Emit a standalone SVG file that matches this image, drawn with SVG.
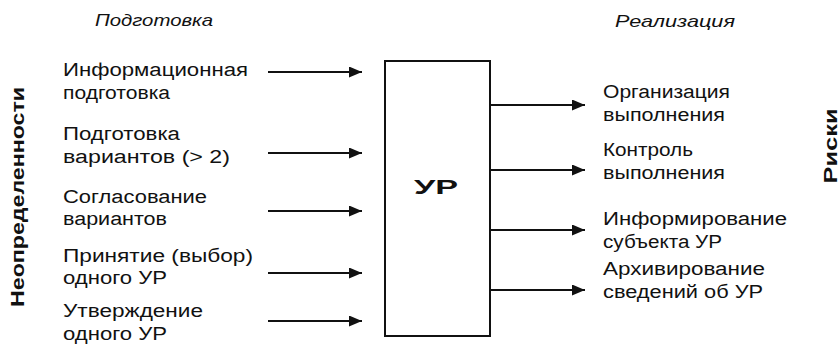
<svg xmlns="http://www.w3.org/2000/svg" width="840" height="353" viewBox="0 0 840 353">
<style>
text{font-family:"Liberation Sans","DejaVu Sans",Arial,sans-serif;fill:#111}
.t{font-size:18px}
.h{font-size:17px;font-style:italic}
.b{font-size:19px;font-weight:bold}
.u{font-size:21px;font-weight:bold}
.c{stroke:#111;stroke-width:2;fill:none}
</style>
<defs>
<marker id="ah" markerUnits="userSpaceOnUse" markerWidth="14" markerHeight="11" refX="13" refY="5.5" orient="auto">
<path d="M0,0 L13,5.5 L0,11 Z" fill="#111"/>
</marker>
</defs>
<rect width="840" height="353" fill="#fff"/>
<g id="title-prep"><text class="h" x="95" y="26" textLength="118" lengthAdjust="spacingAndGlyphs">Подготовка</text></g>
<g id="title-real"><text class="h" x="615" y="27" textLength="120" lengthAdjust="spacingAndGlyphs">Реализация</text></g>
<g id="side-left"><text class="b" transform="translate(24,197) rotate(-90)" text-anchor="middle" textLength="220" lengthAdjust="spacingAndGlyphs">Неопределенности</text></g>
<g id="side-right"><text class="b" transform="translate(837,146) rotate(-90)" text-anchor="middle" textLength="75" lengthAdjust="spacingAndGlyphs">Риски</text></g>
<g id="box-ur">
<rect x="385" y="61" width="105" height="275" fill="#fff" stroke="#111" stroke-width="2"/>
<text class="u" x="414" y="194" textLength="44" lengthAdjust="spacingAndGlyphs">УР</text>
</g>
<g id="in1"><text class="t" x="63" y="76" textLength="185" lengthAdjust="spacingAndGlyphs">Информационная</text><text class="t" x="63" y="99" textLength="107" lengthAdjust="spacingAndGlyphs">подготовка</text></g>
<g id="in2"><text class="t" x="63" y="140" textLength="117" lengthAdjust="spacingAndGlyphs">Подготовка</text><text class="t" x="63" y="163" textLength="167" lengthAdjust="spacingAndGlyphs">вариантов (&gt; 2)</text></g>
<g id="in3"><text class="t" x="63" y="203" textLength="144" lengthAdjust="spacingAndGlyphs">Согласование</text><text class="t" x="63" y="225" textLength="104" lengthAdjust="spacingAndGlyphs">вариантов</text></g>
<g id="in4"><text class="t" x="63" y="262" textLength="190" lengthAdjust="spacingAndGlyphs">Принятие (выбор)</text><text class="t" x="63" y="284" textLength="104" lengthAdjust="spacingAndGlyphs">одного УР</text></g>
<g id="in5"><text class="t" x="63" y="317" textLength="140" lengthAdjust="spacingAndGlyphs">Утверждение</text><text class="t" x="63" y="340" textLength="104" lengthAdjust="spacingAndGlyphs">одного УР</text></g>
<g id="out1"><text class="t" x="603" y="98" textLength="127" lengthAdjust="spacingAndGlyphs">Организация</text><text class="t" x="603" y="121" textLength="122" lengthAdjust="spacingAndGlyphs">выполнения</text></g>
<g id="out2"><text class="t" x="603" y="156" textLength="90" lengthAdjust="spacingAndGlyphs">Контроль</text><text class="t" x="603" y="179" textLength="122" lengthAdjust="spacingAndGlyphs">выполнения</text></g>
<g id="out3"><text class="t" x="603" y="225" textLength="184" lengthAdjust="spacingAndGlyphs">Информирование</text><text class="t" x="603" y="248" textLength="119" lengthAdjust="spacingAndGlyphs">субъекта УР</text></g>
<g id="out4"><text class="t" x="603" y="275" textLength="162" lengthAdjust="spacingAndGlyphs">Архивирование</text><text class="t" x="603" y="298" textLength="160" lengthAdjust="spacingAndGlyphs">сведений об УР</text></g>
<g id="connectors" class="c">
<line x1="268" y1="72" x2="362" y2="72" marker-end="url(#ah)"/>
<line x1="268" y1="153" x2="362" y2="153" marker-end="url(#ah)"/>
<line x1="268" y1="211" x2="362" y2="211" marker-end="url(#ah)"/>
<line x1="268" y1="273" x2="362" y2="273" marker-end="url(#ah)"/>
<line x1="268" y1="321" x2="362" y2="321" marker-end="url(#ah)"/>
<line x1="490" y1="105" x2="585" y2="105" marker-end="url(#ah)"/>
<line x1="490" y1="170" x2="585" y2="170" marker-end="url(#ah)"/>
<line x1="490" y1="230" x2="585" y2="230" marker-end="url(#ah)"/>
<line x1="490" y1="290" x2="585" y2="290" marker-end="url(#ah)"/>
</g>
</svg>
